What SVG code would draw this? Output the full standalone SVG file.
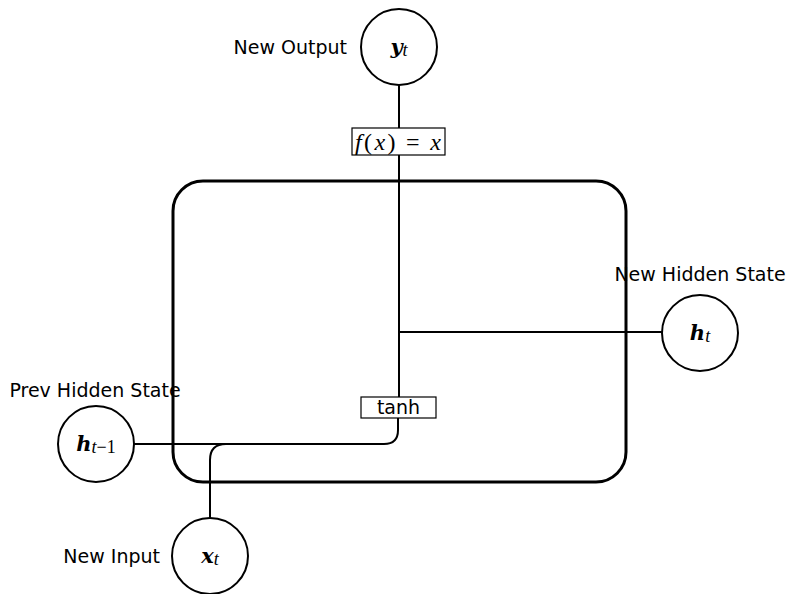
<svg xmlns="http://www.w3.org/2000/svg" width="787" height="594" viewBox="0 0 787 594">
<style>
.lbl{font-family:"DejaVu Sans",sans-serif;font-size:19px;fill:#000}
.node{fill:#fff;stroke:#000;stroke-width:2}
.wire{fill:none;stroke:#000;stroke-width:2}
.box{fill:#fff;stroke:#000;stroke-width:1.2}
.mb{font-family:"DejaVu Serif",serif;font-weight:bold;font-style:italic;font-size:21px}
.mi{font-family:"Liberation Serif",serif;font-style:italic;font-size:18px}
.mr{font-family:"Liberation Serif",serif;font-size:18px}
.fx{font-family:"Liberation Serif",serif;font-size:24px}
</style>
<rect id="cell" x="173" y="181" width="453" height="301" rx="30" ry="30" fill="none" stroke="#000" stroke-width="3"/>
<g id="connectors">
<path class="wire" d="M399 85 V397"/>
<path class="wire" d="M399 332 H662"/>
<path class="wire" d="M134 444 H384 Q398 444 398 430 V418"/>
<path class="wire" d="M210 518 V460 Q210 444 226 444"/>
</g>
<g id="fx">
<rect class="box" x="352" y="128" width="93" height="27"/>
<text x="355" y="149.5" class="fx" textLength="86" lengthAdjust="spacing"><tspan font-style="italic">f</tspan>(<tspan font-style="italic">x</tspan>) = <tspan font-style="italic">x</tspan></text>
</g>
<g id="tanh">
<rect class="box" x="361" y="397" width="75" height="21"/>
<text x="398.5" y="413.5" text-anchor="middle" class="lbl" font-size="17px">tanh</text>
</g>
<g id="yt">
<circle class="node" cx="399" cy="47" r="38"/>
<text x="399" y="54" text-anchor="middle"><tspan class="mb">y</tspan><tspan class="mi" dy="2">t</tspan></text>
<text x="347" y="54" text-anchor="end" class="lbl">New Output</text>
</g>
<g id="ht">
<circle class="node" cx="700" cy="333" r="38"/>
<text x="700" y="340" text-anchor="middle"><tspan class="mb">h</tspan><tspan class="mi" dy="2">t</tspan></text>
<text x="700" y="281" text-anchor="middle" class="lbl">New Hidden State</text>
</g>
<g id="hprev">
<circle class="node" cx="96" cy="444" r="38"/>
<text x="96" y="451" text-anchor="middle"><tspan class="mb">h</tspan><tspan class="mi" dy="2">t</tspan><tspan class="mr">−1</tspan></text>
<text x="95" y="397" text-anchor="middle" class="lbl">Prev Hidden State</text>
</g>
<g id="xt">
<circle class="node" cx="210" cy="556" r="38"/>
<text x="210" y="563" text-anchor="middle"><tspan class="mb">x</tspan><tspan class="mi" dy="2">t</tspan></text>
<text x="160" y="563" text-anchor="end" class="lbl">New Input</text>
</g>
</svg>
